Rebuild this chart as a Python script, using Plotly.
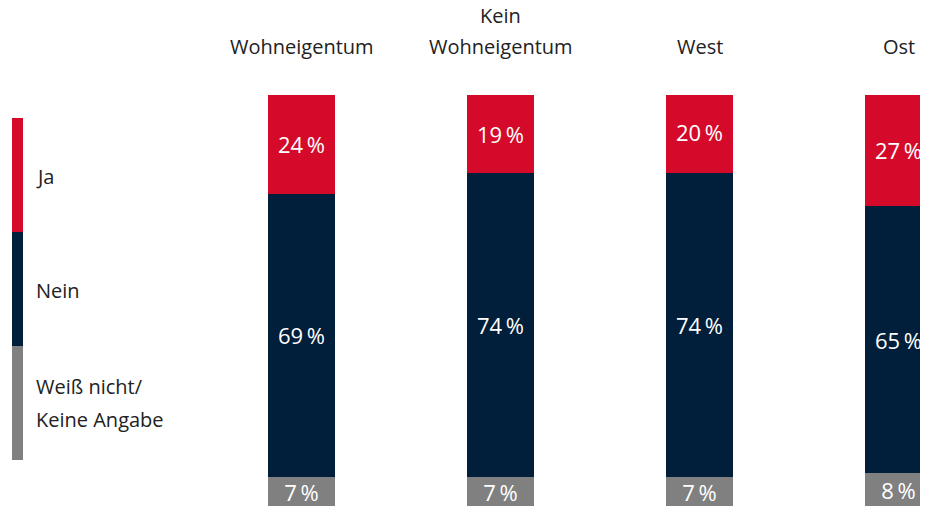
import plotly.graph_objects as go

categories = ["Wohneigentum", "Kein<br>Wohneigentum", "West", "Ost"]
ja = [24, 19, 20, 27]
nein = [69, 74, 74, 65]
weiss = [7, 7, 7, 8]
series_names = ["Ja", "Nein", "Weiß nicht/<br>Keine Angabe"]
colors = ["#D50A2A", "#011E3A", "#808080"]

FONT = "Open Sans"
TXT = "#222222"
W, H = 920, 498          # page body has an 8px margin
OFF = 8
TOP = 95 - OFF

fig = go.Figure()
for name, vals, col in [(series_names[2], weiss, colors[2]),
                        (series_names[1], nein, colors[1]),
                        (series_names[0], ja, colors[0])]:
    fig.add_trace(go.Bar(
        x=categories, y=vals, name=name, marker_color=col, marker_line_width=0,
        width=0.3367,
        texttemplate="%{y}\u2009%", textposition="inside", insidetextanchor="middle",
        textfont=dict(color="white", size=22, family=FONT),
        constraintext="none", showlegend=False, hoverinfo="skip",
    ))

fig.update_layout(
    barmode="stack", width=W, height=H,
    margin=dict(l=0, r=0, t=TOP, b=0, pad=0),
    paper_bgcolor="white", plot_bgcolor="white",
    font=dict(family=FONT, color=TXT),
    xaxis=dict(range=[-(301.5 - OFF) / 199, 3 + (W - (898.5 - OFF)) / 199],
               showticklabels=False, showgrid=False, zeroline=False, fixedrange=True),
    yaxis=dict(range=[0, 100], visible=False, fixedrange=True),
)

# column headers (each line placed separately)
for c in categories:
    lines = c.split("<br>")
    for k, line in enumerate(reversed(lines)):
        fig.add_annotation(x=c, y=1, xref="x", yref="paper", yanchor="middle",
                           yshift=(95 - 46) + 31 * k, text=line, showarrow=False,
                           font=dict(size=20, family=FONT, color=TXT))

def py(pix):
    # viewport pixel -> paper fraction of the plot area
    return (H - (pix - OFF)) / (H - TOP)

def px(pix):
    return (pix - OFF) / W

legend_y = [(118, 232), (232, 346), (346, 460)]
for (y0, y1), col, name in zip(legend_y, colors, series_names):
    fig.add_shape(type="rect", xref="paper", yref="paper",
                  x0=px(12), x1=px(23), y0=py(y1), y1=py(y0),
                  fillcolor=col, line_width=0, layer="above")
    lines = name.split("<br>")
    if len(lines) == 1:
        centers = [(y0 + y1) / 2 + 1]
    else:
        centers = [386, 419]
    for line, cy in zip(lines, centers):
        fig.add_annotation(xref="paper", yref="paper", x=px(34), y=py(cy),
                           xanchor="left", yanchor="middle", align="left",
                           text=line, showarrow=False,
                           font=dict(size=20, family=FONT, color=TXT))

fig.write_html("out.html")
